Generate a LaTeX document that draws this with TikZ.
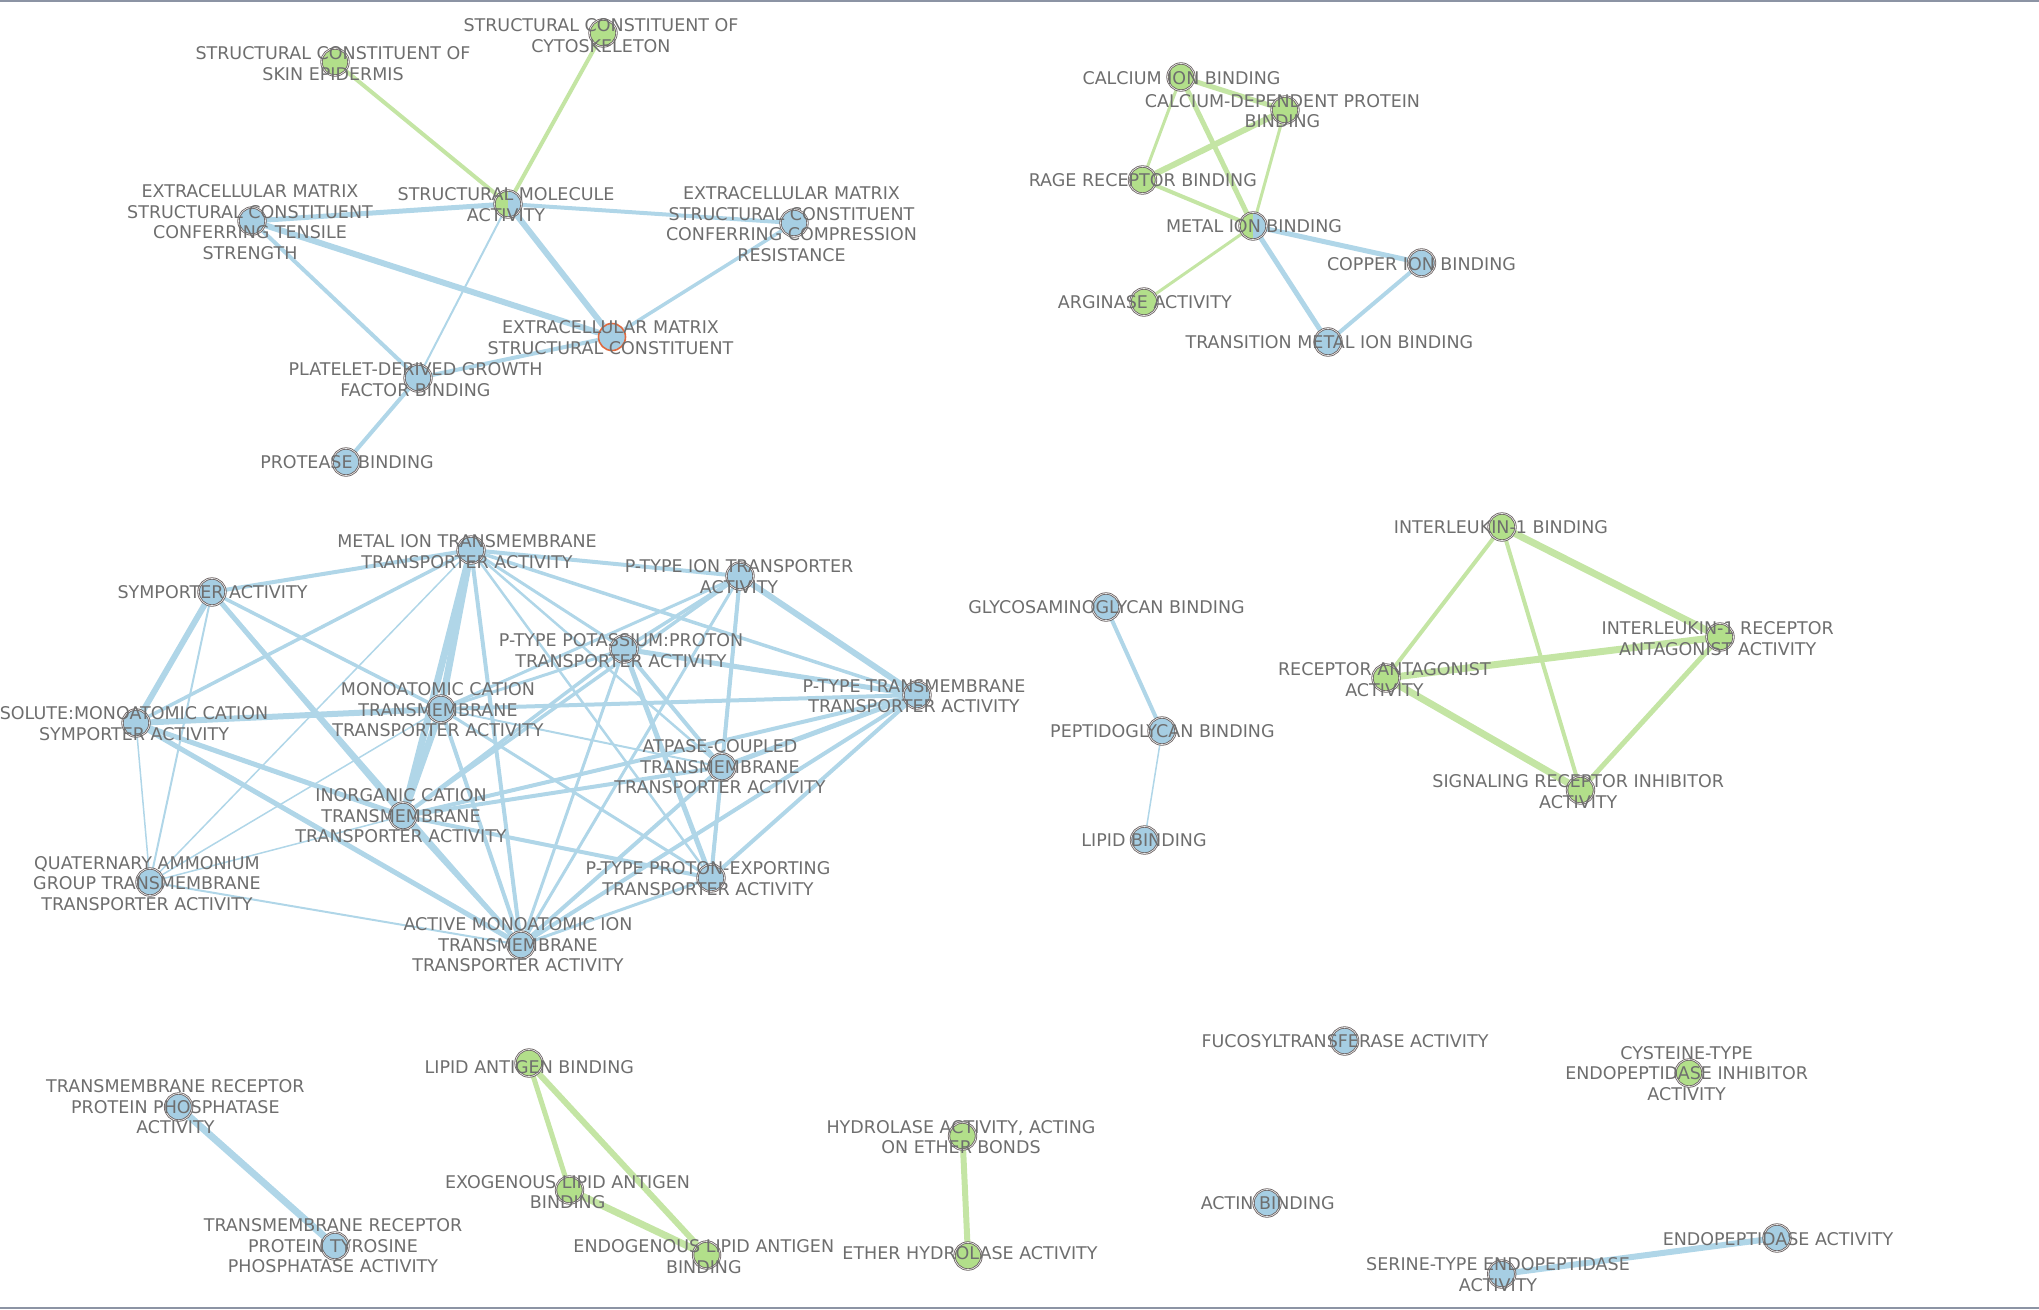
\documentclass[tikz,border=0pt]{standalone}
\usepackage{fontspec}
\setmainfont{DejaVu Sans}
\usetikzlibrary{backgrounds}
\definecolor{nblue}{HTML}{A6CEE3}
\definecolor{ngreen}{HTML}{B2DF8A}
\definecolor{eblue}{HTML}{B0D6E8}
\definecolor{egreen}{HTML}{C4E5A4}
\definecolor{ring}{HTML}{6A6262}
\definecolor{txt}{HTML}{6E6E6E}
\definecolor{framec}{HTML}{8C94A4}
\definecolor{ecmring}{HTML}{DE6A40}
\newcommand{\lblfont}{\fontsize{17.5}{20.5}\selectfont}
\tikzset{
  nd/.style={circle, minimum size=27pt, inner sep=0pt, draw=ring, line width=0.8pt, double=white!85!ring, double distance=0.7pt},
  bn/.style={nd, fill=nblue},
  gn/.style={nd, fill=ngreen},
  sn/.style={nd, fill=nblue, path picture={\fill[ngreen] (path picture bounding box.south west) rectangle (path picture bounding box.north);}},
  ecmn/.style={circle, minimum size=27pt, inner sep=0pt, fill=nblue, draw=ecmring, line width=1.6pt},
  lbl/.style={font=\lblfont, text=txt, align=center, inner sep=0pt},
  bedge/.style={draw=eblue},
  gedge/.style={draw=egreen},
  framel/.style={draw=framec, line width=1.5pt}
}
\newcommand{\edgeB}[3]{\draw[bedge, line width=#3pt] (#1) -- (#2);}
\newcommand{\edgeG}[3]{\draw[gedge, line width=#3pt] (#1) -- (#2);}
\begin{document}
\begin{tikzpicture}[x=1pt, y=-1pt]
\useasboundingbox (0,0) rectangle (2039,1309);
\draw[framel] (0,0.75) -- (2039,0.75);
\draw[framel] (0,1307.8) -- (2039,1307.8);

% ---------- nodes: cluster 1
\node[gn] (skin) at (335,62) {};
\node[gn] (cyto) at (603,33) {};
\node[sn] (sma) at (508,204) {};
\node[bn] (tens) at (252,221) {};
\node[bn] (comp) at (794,223) {};
\node[ecmn] (ecm) at (612,337) {};
\node[bn] (pdgf) at (418,378) {};
\node[bn] (prot) at (346,462) {};
% cluster 2
\node[gn] (calc) at (1181,77) {};
\node[gn] (cdpb) at (1285,110) {};
\node[gn] (rage) at (1142.5,180) {};
\node[sn] (mib) at (1253,226) {};
\node[bn] (copp) at (1421.5,263) {};
\node[gn] (argi) at (1144,302) {};
\node[bn] (tmib) at (1328,342) {};
% cluster 3
\node[bn] (m) at (471,550) {};
\node[bn] (sy) at (212,592) {};
\node[bn] (pi) at (740,576) {};
\node[bn] (pk) at (624,649) {};
\node[bn] (pt) at (917,695) {};
\node[bn] (sm) at (136,723) {};
\node[bn] (mc) at (441,709) {};
\node[bn] (at) at (722,767) {};
\node[bn] (ic) at (403,816) {};
\node[bn] (q) at (150,882) {};
\node[bn] (pp) at (711,878) {};
\node[bn] (am) at (521,945) {};
% cluster 4
\node[bn] (glyc) at (1106,607) {};
\node[bn] (pept) at (1162,731) {};
\node[bn] (lipb) at (1144.5,840) {};
% cluster 5
\node[gn] (il1) at (1502,527) {};
\node[gn] (il1ra) at (1720,637) {};
\node[gn] (ra) at (1386,678) {};
\node[gn] (sri) at (1580.5,790) {};
% bottom
\node[bn] (trpp) at (178.6,1107) {};
\node[bn] (trptp) at (335,1246) {};
\node[gn] (la) at (529,1063) {};
\node[gn] (exo) at (569.5,1190) {};
\node[gn] (endo) at (706.6,1255) {};
\node[gn] (hydr) at (962.5,1136) {};
\node[gn] (ethr) at (968,1256) {};
\node[bn] (fuco) at (1344.6,1041) {};
\node[gn] (cyst) at (1689,1073) {};
\node[bn] (actn) at (1267,1203) {};
\node[bn] (endp) at (1777,1238) {};
\node[bn] (seri) at (1501.7,1274) {};

% ---------- edges
\begin{scope}[on background layer]
\edgeG{skin}{sma}{4}
\edgeG{cyto}{sma}{4}
\edgeB{sma}{tens}{5}
\edgeB{sma}{comp}{4}
\edgeB{sma}{ecm}{6}
\edgeB{sma}{pdgf}{2}
\edgeB{tens}{ecm}{6}
\edgeB{tens}{pdgf}{4}
\edgeB{comp}{ecm}{3.5}
\edgeB{ecm}{pdgf}{4}
\edgeB{pdgf}{prot}{4}
% cluster 2
\edgeG{calc}{cdpb}{5}
\edgeG{calc}{rage}{3}
\edgeG{calc}{mib}{5}
\edgeG{cdpb}{rage}{6}
\edgeG{cdpb}{mib}{3}
\edgeG{rage}{mib}{4}
\edgeG{mib}{argi}{3}
\edgeB{mib}{copp}{5}
\edgeB{mib}{tmib}{5}
\edgeB{copp}{tmib}{4}
% cluster 3
\edgeB{m}{sy}{4}
\edgeB{m}{pi}{4}
\edgeB{m}{pt}{3.5}
\edgeB{m}{pk}{3}
\edgeB{m}{sm}{3.5}
\edgeB{m}{q}{1.5}
\edgeB{m}{mc}{7}
\edgeB{m}{ic}{7}
\edgeB{m}{am}{4}
\edgeB{m}{at}{2.5}
\edgeB{m}{pp}{2.5}
\edgeB{sy}{sm}{6}
\edgeB{sy}{q}{2}
\edgeB{sy}{ic}{5}
\edgeB{sy}{mc}{3.5}
\edgeB{sy}{am}{3}
\edgeB{sm}{mc}{6}
\edgeB{mc}{pt}{4}
\edgeB{sm}{q}{1.5}
\edgeB{sm}{ic}{5}
\edgeB{sm}{am}{5}
\edgeB{q}{mc}{1.5}
\edgeB{q}{ic}{1.5}
\edgeB{q}{am}{2}
\edgeB{pi}{pt}{6}
\edgeB{pi}{pk}{3.5}
\edgeB{pi}{mc}{3}
\edgeB{pi}{ic}{3.5}
\edgeB{pi}{at}{4}
\edgeB{pi}{am}{3}
\edgeB{pi}{pp}{3}
\edgeB{pk}{pt}{5}
\edgeB{pk}{at}{4}
\edgeB{pk}{pp}{5}
\edgeB{pk}{am}{3}
\edgeB{pk}{ic}{3.5}
\edgeB{pk}{mc}{3}
\edgeB{pt}{at}{5}
\edgeB{pt}{ic}{4}
\edgeB{pt}{am}{4}
\edgeB{pt}{pp}{4}
\edgeB{mc}{at}{2}
\edgeB{mc}{ic}{7}
\edgeB{mc}{am}{4}
\edgeB{mc}{pp}{3}
\edgeB{ic}{at}{4}
\edgeB{ic}{am}{5}
\edgeB{ic}{pp}{4}
\edgeB{at}{am}{4}
\edgeB{at}{pp}{4}
\edgeB{pp}{am}{3}
% cluster 4
\edgeB{glyc}{pept}{4}
\edgeB{pept}{lipb}{1.5}
% cluster 5
\edgeG{il1}{ra}{4}
\edgeG{il1}{il1ra}{7}
\edgeG{il1}{sri}{4}
\edgeG{ra}{il1ra}{7}
\edgeG{ra}{sri}{7}
\edgeG{il1ra}{sri}{5}
% bottom
\edgeB{trpp}{trptp}{7}
\edgeG{la}{exo}{5}
\edgeG{la}{endo}{6}
\edgeG{exo}{endo}{7}
\edgeG{hydr}{ethr}{6}
\edgeB{seri}{endp}{6}
\end{scope}

% ---------- labels
\node[lbl] (skin-l) at (333,63.5) {STRUCTURAL CONSTITUENT OF\\SKIN EPIDERMIS};
\node[lbl] (cyto-l) at (601,35.5) {STRUCTURAL CONSTITUENT OF\\CYTOSKELETON};
\node[lbl] (sma-l) at (506,204.5) {STRUCTURAL MOLECULE\\ACTIVITY};
\node[lbl] (tens-l) at (250,222) {EXTRACELLULAR MATRIX\\STRUCTURAL CONSTITUENT\\CONFERRING TENSILE\\STRENGTH};
\node[lbl] (comp-l) at (791.5,224) {EXTRACELLULAR MATRIX\\STRUCTURAL CONSTITUENT\\CONFERRING COMPRESSION\\RESISTANCE};
\node[lbl] (ecm-l) at (610.5,337.5) {EXTRACELLULAR MATRIX\\STRUCTURAL CONSTITUENT};
\node[lbl] (pdgf-l) at (415.5,379.5) {PLATELET-DERIVED GROWTH\\FACTOR BINDING};
\node[lbl] (prot-l) at (347,462.5) {PROTEASE BINDING};

\node[lbl] (calc-l) at (1181.5,78) {CALCIUM ION BINDING};
\node[lbl] (cdpb-l) at (1282.5,111) {CALCIUM-DEPENDENT PROTEIN\\BINDING};
\node[lbl] (rage-l) at (1142.8,180.5) {RAGE RECEPTOR BINDING};
\node[lbl] (mib-l) at (1254,226.5) {METAL ION BINDING};
\node[lbl] (copp-l) at (1421.5,263.8) {COPPER ION BINDING};
\node[lbl] (argi-l) at (1144.8,302.5) {ARGINASE ACTIVITY};
\node[lbl] (tmib-l) at (1329.4,342.5) {TRANSITION METAL ION BINDING};

\node[lbl] (m-l) at (467,551.5) {METAL ION TRANSMEMBRANE\\TRANSPORTER ACTIVITY};
\node[lbl] (sy-l) at (212.5,592.5) {SYMPORTER ACTIVITY};
\node[lbl] (pi-l) at (739,576.5) {P-TYPE ION TRANSPORTER\\ACTIVITY};
\node[lbl] (pk-l) at (621,650.5) {P-TYPE POTASSIUM:PROTON\\TRANSPORTER ACTIVITY};
\node[lbl] (pt-l) at (914,696) {P-TYPE TRANSMEMBRANE\\TRANSPORTER ACTIVITY};
\node[lbl] (sm-l) at (134,723.5) {SOLUTE:MONOATOMIC CATION\\SYMPORTER ACTIVITY};
\node[lbl] (mc-l) at (438,710) {MONOATOMIC CATION\\TRANSMEMBRANE\\TRANSPORTER ACTIVITY};
\node[lbl] (at-l) at (720,767) {ATPASE-COUPLED\\TRANSMEMBRANE\\TRANSPORTER ACTIVITY};
\node[lbl] (ic-l) at (401,816) {INORGANIC CATION\\TRANSMEMBRANE\\TRANSPORTER ACTIVITY};
\node[lbl] (q-l) at (147,883.5) {QUATERNARY AMMONIUM\\GROUP TRANSMEMBRANE\\TRANSPORTER ACTIVITY};
\node[lbl] (pp-l) at (708,878.5) {P-TYPE PROTON-EXPORTING\\TRANSPORTER ACTIVITY};
\node[lbl] (am-l) at (518,945) {ACTIVE MONOATOMIC ION\\TRANSMEMBRANE\\TRANSPORTER ACTIVITY};

\node[lbl] (glyc-l) at (1106.5,607) {GLYCOSAMINOGLYCAN BINDING};
\node[lbl] (pept-l) at (1162.4,731.5) {PEPTIDOGLYCAN BINDING};
\node[lbl] (lipb-l) at (1144,840.5) {LIPID BINDING};

\node[lbl] (il1-l) at (1501,527.5) {INTERLEUKIN-1 BINDING};
\node[lbl] (il1ra-l) at (1717.7,638.8) {INTERLEUKIN-1 RECEPTOR\\ANTAGONIST ACTIVITY};
\node[lbl] (ra-l) at (1384.4,679.5) {RECEPTOR ANTAGONIST\\ACTIVITY};
\node[lbl] (sri-l) at (1578.2,791.5) {SIGNALING RECEPTOR INHIBITOR\\ACTIVITY};

\node[lbl] (trpp-l) at (175.4,1107) {TRANSMEMBRANE RECEPTOR\\PROTEIN PHOSPHATASE\\ACTIVITY};
\node[lbl] (trptp-l) at (333,1246) {TRANSMEMBRANE RECEPTOR\\PROTEIN TYROSINE\\PHOSPHATASE ACTIVITY};
\node[lbl] (la-l) at (529.3,1067.2) {LIPID ANTIGEN BINDING};
\node[lbl] (exo-l) at (567.6,1192.2) {EXOGENOUS LIPID ANTIGEN\\BINDING};
\node[lbl] (endo-l) at (703.8,1256.5) {ENDOGENOUS LIPID ANTIGEN\\BINDING};
\node[lbl] (hydr-l) at (961,1137) {HYDROLASE ACTIVITY, ACTING\\ON ETHER BONDS};
\node[lbl] (ethr-l) at (970,1253) {ETHER HYDROLASE ACTIVITY};
\node[lbl] (fuco-l) at (1345,1041.2) {FUCOSYLTRANSFERASE ACTIVITY};
\node[lbl] (cyst-l) at (1686.6,1073.3) {CYSTEINE-TYPE\\ENDOPEPTIDASE INHIBITOR\\ACTIVITY};
\node[lbl] (actn-l) at (1267.7,1203.2) {ACTIN BINDING};
\node[lbl] (endp-l) at (1778,1238.8) {ENDOPEPTIDASE ACTIVITY};
\node[lbl] (seri-l) at (1498,1274.8) {SERINE-TYPE ENDOPEPTIDASE\\ACTIVITY};
\end{tikzpicture}
\end{document}
